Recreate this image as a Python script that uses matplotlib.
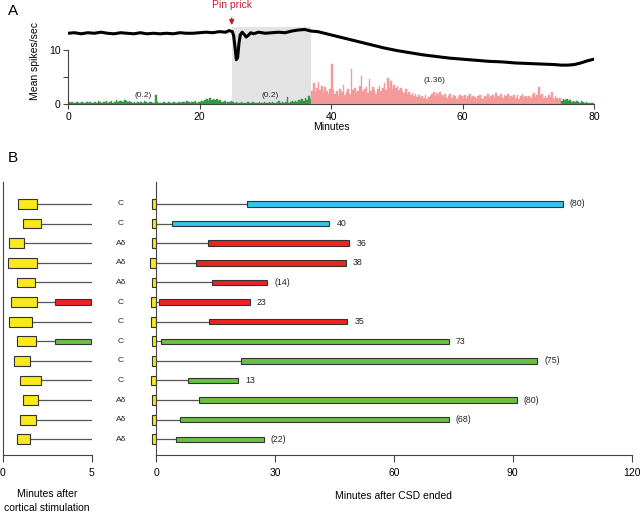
import numpy as np
import matplotlib
matplotlib.use('Agg')
from matplotlib import pyplot as plt

plt.rcParams['font.family'] = ['Liberation Sans', 'DejaVu Sans']

# ---- Panel A data ----
BIN = 0.25  # minutes per histogram bin

green_pre = [0.3,0.2,0.4,0.1,0.2,0.3,0.1,0.2,0.3,0.2, 0.1,0.3,0.2,0.4,0.2,0.1,0.3,0.2,0.5,0.3,
             0.2,0.4,0.3,0.6,0.2,0.3,0.5,0.2,0.4,0.7, 0.3,0.5,0.6,0.4,0.8,0.5,0.3,0.6,0.4,0.2,
             0.3,0.2,0.4,0.1,0.3,0.2,0.5,0.3,0.2,0.4, 0.3,0.2,0.1,1.7,0.3,0.2,0.1,0.2,0.3,0.1,
             0.2,0.3,0.1,0.2,0.4,0.2,0.1,0.3,0.2,0.4, 0.3,0.2,0.5,0.3,0.2,0.4,0.3,0.6,0.2,0.3,
             0.4,0.5,0.3,0.7,0.9,0.6,1.2,0.8,1.0,0.7, 0.9,0.5,0.8,0.4,0.3,0.5,0.2,0.4,0.3,0.5,
             0.3,0.2,0.4,0.2,0.1,0.3,0.2,0.1,0.2,0.3, 0.1,0.2,0.3,0.2,0.1,0.2,0.4,0.2,0.1,0.3,
             0.2,0.1,0.3,0.2,0.4,0.1,0.2,0.3,0.5,0.2, 0.3,0.2,0.4,1.3,0.2,0.3,0.5,0.4,0.6,0.3,
             0.7,0.5,1.0,0.6,1.2,0.8,1.5,0.9]
pink_mid = [2.5,3.8,2.2,3.0,4.1,2.6,3.4,2.0,3.2,2.4,1.8,2.8,
            7.4,2.6,1.8,2.4,1.5,2.8,2.2,3.5,1.6,2.3, 2.8,1.9,6.4,2.6,3.0,2.1,2.5,3.3,5.1,2.4,
            2.8,3.2,2.0,4.7,2.4,3.1,2.6,1.9,2.7,3.4, 2.5,2.9,3.8,2.6,4.8,3.0,4.2,2.7,3.5,2.9,
            3.3,2.6,3.0,2.4,2.1,2.8,1.9,2.3,1.6,2.0, 1.5,1.8,1.3,1.7,1.1,1.4,1.2,1.6,1.0,1.3,
            1.5,1.9,2.3,1.4,2.0,1.7,2.2,1.6,1.3,1.8, 1.1,1.5,1.9,1.2,1.6,1.4,1.0,1.3,1.7,1.5,
            1.2,1.6,1.0,1.4,1.8,1.1,1.5,1.3,0.9,1.4, 1.7,1.2,1.0,1.5,1.3,1.9,1.1,1.4,1.6,1.2,
            2.0,1.5,1.3,1.8,1.2,1.6,1.4,1.9,1.1,1.5, 1.3,1.7,1.2,1.6,1.0,1.4,1.8,1.3,1.5,1.1,
            1.4,1.2,1.6,2.0,1.3,1.7,3.2,1.4,1.8,1.2, 1.5,1.1,1.6,1.3,2.2,1.0,1.4,1.2,0.9,1.1]
green_post = [0.6,1.0,0.8,0.9,0.5,0.7,0.4,0.6,0.3,0.5, 0.4,0.2,0.5,0.3,0.2,0.3,0.1,0.2,0.1,0.1]

trace_t = [0,1,2,3,4,5,6,7,8,9,10,11,12,13,14,15,16,17,18,19,20,21,22,23,24,24.5,25,25.2,25.4,
           25.6,25.8,26.0,26.2,26.5,26.8,27.1,27.4,27.8,28.2,29,30,31,32,33,34,35,36,37,38,39,40,
           42,44,46,48,50,52,54,56,58,60,62,64,66,68,70,72,74,75,76,77,78,79,80]
trace_v = [13.1,13.2,13.0,13.2,13.1,13.3,13.1,13.0,13.2,13.1,13.0,13.2,13.0,13.1,13.0,13.1,13.0,
           13.2,13.1,13.1,13.2,13.3,13.2,13.4,13.3,13.6,13.4,12.6,10.5,8.2,8.6,11.2,12.8,13.3,12.9,
           12.4,12.7,13.2,13.0,13.3,13.1,13.2,13.3,13.2,13.5,13.7,13.8,13.5,13.4,13.1,12.8,
           12.2,11.6,11.0,10.4,9.9,9.5,9.1,8.8,8.5,8.3,8.1,7.9,7.8,7.6,7.5,7.4,7.3,7.2,7.2,7.3,
           7.6,8.0,8.3]

shade_start, shade_end, shade_top = 25.0, 37.0, 14.3
pin_prick_t = 24.9
rate_notes = [(11.4, 1.6, '(0.2)'), (30.8, 1.6, '(0.2)'), (55.8, 4.3, '(1.36)')]

# ---- Panel B data ----
fiber = ['C', 'C', 'Aδ', 'Aδ', 'Aδ', 'C', 'C', 'C', 'C', 'C', 'Aδ', 'Aδ', 'Aδ']
stim_start = [0.88, 1.14, 0.33, 0.28, 0.82, 0.47, 0.33, 0.82, 0.65, 0.99, 1.16, 0.99, 0.82]
stim_end = [1.94, 2.13, 1.21, 1.94, 1.80, 1.94, 1.65, 1.87, 1.53, 2.13, 1.96, 1.87, 1.55]
early_start = [None, None, None, None, None, 2.95, None, 2.95, None, None, None, None, None]
early_end = [None, None, None, None, None, 4.98, None, 4.98, None, None, None, None, None]
csd_box_start = [-1.0, -1.0, -1.0, -1.6, -1.0, -1.3, -1.2, -1.0, -1.0, -1.3, -1.0, -1.0, -1.0]
late_start = [22.9, 3.95, 13.0, 10.0, 14.1, 0.84, 13.4, 1.2, 21.4, 8.0, 10.9, 6.05, 5.1]
late_end = [102.6, 43.7, 48.7, 47.9, 28.0, 23.7, 48.3, 73.8, 96.2, 20.8, 91.0, 73.8, 27.2]
late_label = ['(80)', '40', '36', '38', '(14)', '23', '35', '73', '(75)', '13', '(80)', '(68)', '(22)']
group = ['cyan', 'cyan', 'red', 'red', 'red', 'red', 'red',
         'green', 'green', 'green', 'green', 'green', 'green']

COLORS = {'cyan': '#35c4ee', 'red': '#ee2424', 'green': '#6cbf45'}
YELLOW = '#f8e81c'
EDGE = '#333333'
LINE = '#555555'
SPINE = '#444444'

fig = plt.figure(figsize=(6.4, 5.15), dpi=100)

# ================= Panel A =================
axA = fig.add_axes([68/640, 1 - 104/515, 526/640, 86/515])
axA.set_xlim(0, 80)
axA.set_ylim(0, 86/5.4)
axA.axvspan(shade_start, shade_end, ymax=shade_top/(86/5.4), color='#e3e3e3', lw=0, zorder=0)

n_pre, n_mid = len(green_pre), len(pink_mid)
t_pre = np.arange(n_pre) * BIN
t_mid = (n_pre + np.arange(n_mid)) * BIN
t_post = (n_pre + n_mid + np.arange(len(green_post))) * BIN
GREEN_H, PINK_H = '#2f9a3c', '#f59a9a'
axA.bar(t_pre, green_pre, width=BIN, align='edge', color=GREEN_H, edgecolor=GREEN_H, lw=0.3, zorder=2)
axA.bar(t_mid, pink_mid, width=BIN, align='edge', color=PINK_H, edgecolor=PINK_H, lw=0.3, zorder=2)
axA.bar(t_post, green_post, width=BIN, align='edge', color=GREEN_H, edgecolor=GREEN_H, lw=0.3, zorder=2)
axA.plot(trace_t, trace_v, color='black', lw=2.2, zorder=3)

for x, y, s in rate_notes:
    axA.text(x, y, s, fontsize=6, ha='center', va='center', color='#222222')

axA.annotate('Pin prick', xy=(pin_prick_t, 14.6), xytext=(pin_prick_t, 18.4),
             ha='center', va='center', fontsize=7.5, color='#c4202c',
             arrowprops=dict(arrowstyle='-|>', color='#c4202c', lw=1, shrinkA=4, shrinkB=0,
                             mutation_scale=7),
             annotation_clip=False)

for side in ['top', 'right']:
    axA.spines[side].set_visible(False)
axA.spines['left'].set_bounds(0, 10)
axA.spines['bottom'].set_bounds(0, 80)
for side in ['left', 'bottom']:
    axA.spines[side].set_color(SPINE)
axA.set_yticks([0, 5, 10])
axA.set_yticklabels(['0', '', '10'])
axA.set_xticks([0, 20, 40, 60, 80])
axA.tick_params(labelsize=7.5, length=3.5, color=SPINE, pad=2)
axA.set_xlabel('Minutes', fontsize=7.5, labelpad=0)
axA.set_ylabel('Mean spikes/sec', fontsize=7.5, labelpad=6)

fig.text(8/640, 1 - 11/515, 'A', fontsize=11, va='center')
fig.text(8/640, 1 - 158/515, 'B', fontsize=11, va='center')

# ================= Panel B =================
rows = np.arange(len(fiber))
ylim = (12.8, -1.12)
bottom = 1 - 455/515
height = (455 - 182)/515

axL = fig.add_axes([2.7/640, bottom, 89/640, height])
axR = fig.add_axes([156/640, bottom, (631.7 - 156)/640, height])

for i in rows:
    # left: cortical stimulation response
    axL.plot([stim_end[i], early_start[i] or 5.0], [i, i], color=LINE, lw=0.9, zorder=1)
    axL.barh(i, stim_end[i] - stim_start[i], left=stim_start[i], height=0.5,
             color=YELLOW, edgecolor=EDGE, lw=0.8, zorder=2)
    if early_start[i] is not None:
        axL.barh(i, early_end[i] - early_start[i], left=early_start[i], height=0.28,
                 color=COLORS[group[i]], edgecolor=EDGE, lw=0.8, zorder=2)
    axL.text(6.65, i, fiber[i], fontsize=6, ha='center', va='center', color='#222222',
             clip_on=False)

    # right: after CSD
    axR.plot([0, late_start[i]], [i, i], color=LINE, lw=0.9, zorder=1)
    axR.barh(i, -csd_box_start[i], left=csd_box_start[i], height=0.5,
             color=YELLOW, edgecolor=EDGE, lw=0.8, zorder=2, clip_on=False)
    axR.barh(i, late_end[i] - late_start[i], left=late_start[i], height=0.28,
             color=COLORS[group[i]], edgecolor=EDGE, lw=0.8, zorder=2)
    axR.text(late_end[i] + 1.8, i, late_label[i], fontsize=6.3, ha='left', va='center',
             color='#222222')

axL.set_xlim(0, 5)
axR.set_xlim(0, 120)
for ax in (axL, axR):
    ax.set_ylim(*ylim)
    ax.set_yticks([])
    for side in ['top', 'right']:
        ax.spines[side].set_visible(False)
    for side in ['left', 'bottom']:
        ax.spines[side].set_color(SPINE)
    ax.tick_params(axis='x', labelsize=7.5, length=5, color=SPINE, pad=4)
axL.set_xticks([0, 5])
axR.set_xticks([0, 30, 60, 90, 120])
axL.set_xlabel('Minutes after\ncortical stimulation', fontsize=7.5, labelpad=8,
               linespacing=1.6)
axR.set_xlabel('Minutes after CSD ended', fontsize=7.5, labelpad=10)

fig.savefig('out.png', dpi=100)
